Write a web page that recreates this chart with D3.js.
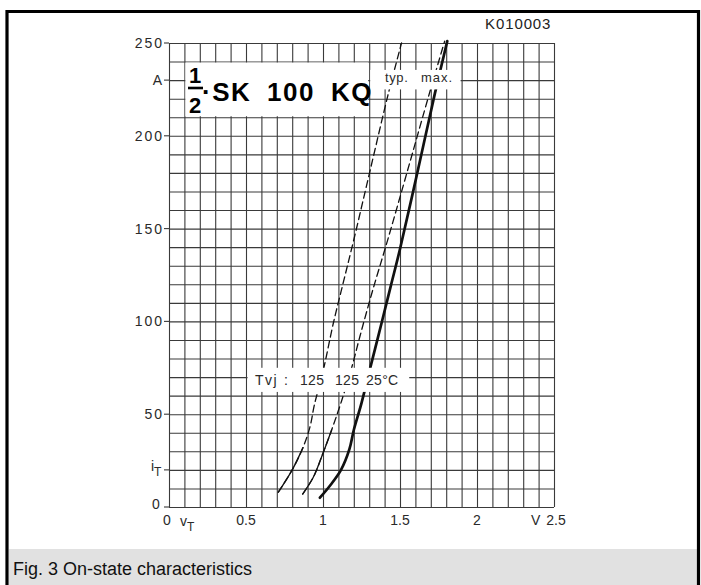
<!DOCTYPE html>
<html><head><meta charset="utf-8">
<script src="https://cdn.jsdelivr.net/npm/d3@7"></script>
<style>body{margin:0;background:#fff}svg{display:block}</style>
</head><body>
<svg id="c" width="701" height="585"></svg>
<script>
// ---------- data ----------
const xTicks = [0, 0.5, 1, 1.5, 2, 2.5];
const xTickLabels = ["0", "0.5", "1", "1.5", "2", "2.5"];
const yTicks = [250, 200, 150, 100, 50];
const yTickLabels = ["250", "200", "150", "100", "50"];
const xUnit = "V", yUnit = "A";
const gridX = d3.range(0, 25.01, 1).map(d => d / 10);  // every 0.1 V
const gridY = d3.range(0, 251, 10);                      // every 10 A

// [vT (V), iT (A)]
const curveTyp125 = [[0.71,8],[0.80,20],[0.87,32],[0.915,43],[0.944,55],[1.0,73],[1.067,99],[1.117,116],[1.2,144],[1.305,181],[1.425,223],[1.51,250]];
const curveMax125 = [[0.868,7],[0.937,16],[1.0,29],[1.056,41.5],[1.12,57],[1.186,75],[1.24,92],[1.32,116],[1.424,145],[1.548,181],[1.695,224],[1.79,251]];
const curve25     = [[0.98,5],[1.05,12],[1.117,20],[1.171,31],[1.20,41.5],[1.25,56],[1.31,76],[1.38,99],[1.44,119],[1.5,139],[1.615,181],[1.727,223],[1.807,251]];
const solidUntilTyp = 32, solidUntilMax = 42;   // A: thin solid below, dashed above
const tvjLabels = ["Tvj", ":", "125", "125", "25°C"];
const gradeLabels = ["typ.", "max."];
const titleWords = ["·SK", "100", "KQ"];
const docId = "K010003";
const caption = "Fig. 3 On-state characteristics";

// ---------- layout ----------
const svg = d3.select("#c");
const x = d3.scaleLinear().domain([0, 2.5]).range([169, 554]);
const y = d3.scaleLinear().domain([0, 250]).range([507, 43]);
const FONT = "'Liberation Sans', Arial, Helvetica, sans-serif";
const TXT = "#2a2a2a";

// frame
svg.append("rect").attr("x", 9).attr("y", 549).attr("width", 688).attr("height", 40).attr("fill", "#e1e1e1");
svg.append("path").attr("d", "M7,590 V11.5 H698.5 V590").attr("fill", "none").attr("stroke", "#000").attr("stroke-width", 3.2);

// grid via axes
const gx = svg.append("g").attr("transform", `translate(0,${y(0)})`)
  .call(d3.axisBottom(x).tickValues(gridX).tickSize(-(y(0) - y(250))).tickFormat(""));
const gy = svg.append("g").attr("transform", `translate(${x(0)},0)`)
  .call(d3.axisLeft(y).tickValues(gridY).tickSize(-(x(2.5) - x(0))).tickFormat(""));
[gx, gy].forEach(g => {
  g.select(".domain").remove();
  g.selectAll("line").attr("stroke", "#3a3a3a").attr("stroke-width", 1.1);
});
// short ticks left of the grid at labelled rows
svg.append("g").selectAll("line").data([250, 230, 200, 150, 100, 50, 20, 0]).join("line")
  .attr("x1", x(0) - 5).attr("x2", x(0)).attr("y1", d => y(d)).attr("y2", d => y(d))
  .attr("stroke", "#3a3a3a").attr("stroke-width", 1.1);

// curves
const line = d3.line().x(d => x(d[0])).y(d => y(d[1])).curve(d3.curveCatmullRom.alpha(0.5));
const plot = svg.append("g").attr("fill", "none").attr("stroke", "#111").attr("stroke-linecap", "round");
function dashedWithSolidStart(data, limit) {
  plot.append("path").attr("d", line(data)).attr("stroke-width", 1.3).attr("stroke-dasharray", "7,4");
  plot.append("path").attr("d", line(data.filter(d => d[1] <= limit))).attr("stroke-width", 1.3);
}
dashedWithSolidStart(curveTyp125, solidUntilTyp);
dashedWithSolidStart(curveMax125, solidUntilMax);
plot.append("path").attr("d", line(curve25)).attr("stroke-width", 2.7);

// white label boxes
svg.append("rect").attr("x", x(0.1) + 1).attr("y", y(240) + 1)
  .attr("width", x(1.3) - x(0.1) - 2).attr("height", y(210) - y(240) - 2).attr("fill", "#fff");
svg.append("rect").attr("x", x(1.3) + 1).attr("y", y(235.5))
  .attr("width", x(1.9) - x(1.3) - 2).attr("height", y(225) - y(235.5)).attr("fill", "#fff");
svg.append("rect").attr("x", x(0.51)).attr("y", y(75))
  .attr("width", x(1.56) - x(0.51)).attr("height", y(62) - y(75)).attr("fill", "#fff");

// title: 1/2 · SK 100 KQ
const tg = svg.append("g").attr("font-family", FONT).attr("font-weight", "bold").attr("fill", "#000");
tg.append("text").attr("x", 195).attr("y", 83).attr("text-anchor", "middle").attr("font-size", 22).text("1");
tg.append("line").attr("x1", 188).attr("x2", 203).attr("y1", 88).attr("y2", 88).attr("stroke", "#000").attr("stroke-width", 2.6);
tg.append("text").attr("x", 195).attr("y", 112.5).attr("text-anchor", "middle").attr("font-size", 22).text("2");
const titleX = [202, 267, 331];
tg.selectAll(".tw").data(titleWords).join("text").attr("class", "tw")
  .attr("x", (d, i) => titleX[i]).attr("y", 101).attr("font-size", 26).attr("letter-spacing", 1.5)
  .text(d => d);

// typ./max.
const lab = svg.append("g").attr("font-family", FONT).attr("fill", TXT).attr("font-size", 13);
lab.append("text").attr("x", 385).attr("y", 82).attr("letter-spacing", 0.6).text(gradeLabels[0]);
lab.append("text").attr("x", 421).attr("y", 82).attr("letter-spacing", 1).text(gradeLabels[1]);

// Tvj labels
const tvjX = [255, 284, 300, 335, 366];
lab.selectAll(".tvj").data(tvjLabels).join("text").attr("class", "tvj")
  .attr("x", (d, i) => tvjX[i]).attr("y", 385).attr("font-size", 14).attr("letter-spacing", (d, i) => i === 0 ? 1.5 : 0.3).text(d => d);

// doc id
svg.append("text").attr("x", 485).attr("y", 29).attr("font-family", FONT).attr("font-size", 15)
  .attr("letter-spacing", 0.9).attr("fill", "#222").text(docId);

// y labels
const yl = svg.append("g").attr("font-family", FONT).attr("font-size", 14).attr("fill", TXT);
yl.selectAll(".yt").data(yTicks).join("text").attr("class", "yt")
  .attr("x", 164).attr("y", d => y(d) + 5).attr("text-anchor", "end").attr("letter-spacing", 2)
  .text((d, i) => yTickLabels[i]);
yl.append("text").attr("x", 162).attr("y", y(230) + 5).attr("text-anchor", "end").text(yUnit);
yl.append("text").attr("x", 151).attr("y", y(20) + 1).text("i");
yl.append("text").attr("x", 154).attr("y", y(20) + 6).attr("font-size", 12).text("T");
yl.append("text").attr("x", 152).attr("y", y(0) + 2).text("0");

// x labels
const xl = svg.append("g").attr("font-family", FONT).attr("font-size", 14).attr("fill", TXT);
xl.selectAll(".xt").data(xTicks).join("text").attr("class", "xt")
  .attr("x", (d, i) => x(d) + (i === 0 ? -2 : i === 5 ? 2 : 0)).attr("y", 525)
  .attr("text-anchor", "middle").text((d, i) => xTickLabels[i]);
xl.append("text").attr("x", 180).attr("y", 526).text("v");
xl.append("text").attr("x", 187).attr("y", 531).attr("font-size", 12).text("T");
xl.append("text").attr("x", 531).attr("y", 525).text(xUnit);

// caption
svg.append("text").attr("x", 13).attr("y", 575).attr("font-family", FONT).attr("font-size", 18)
  .attr("fill", "#111").text(caption);
</script>
</body></html>
